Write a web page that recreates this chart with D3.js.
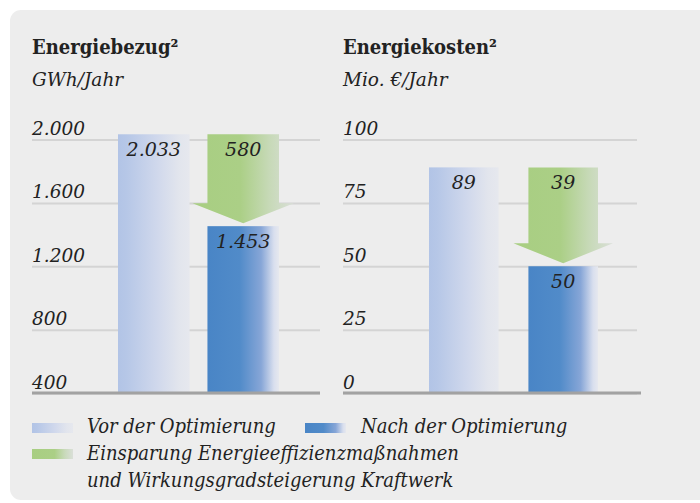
<!DOCTYPE html>
<html><head><meta charset="utf-8">
<script src="https://cdn.jsdelivr.net/npm/d3@7"></script>
<style>
html,body{margin:0;padding:0;background:#fff;}
svg{display:block;}
</style></head>
<body>
<script>
// ---- data ----
const categories = ["Vor der Optimierung", "Nach der Optimierung"];
const savingLabel = "Einsparung Energieeffizienzmaßnahmen";
const savingLabel2 = "und Wirkungsgradsteigerung Kraftwerk";
const energyValues = [2033, 1453];
const energySaving = 580;
const costValues = [89, 50];
const costSaving = 39;
const energyTicks = [400, 800, 1200, 1600, 2000];
const costTicks = [0, 25, 50, 75, 100];
const titles = ["Energiebezug²", "Energiekosten²"];
const units = ["GWh/Jahr", "Mio. €/Jahr"];

const de = d3.formatLocale({decimal: ",", thousands: ".", grouping: [3], currency: ["", " €"]});
const fmt = de.format(",d");

const W = 700, H = 503;
const svg = d3.select("body").append("svg").attr("width", W).attr("height", H);
const defs = svg.append("defs");

function grad(id, stops) {
  const g = defs.append("linearGradient").attr("id", id)
    .attr("x1", "0").attr("x2", "1").attr("y1", "0").attr("y2", "0");
  stops.forEach(s => g.append("stop").attr("offset", s[0]).attr("stop-color", s[1]));
}
grad("gVor", [[0, "#b2c4e6"], [0.12, "#b6c7e7"], [0.55, "#d0d8ec"], [0.85, "#e2e5ed"], [1, "#e6e8ee"]]);
grad("gNach", [[0, "#4985c6"], [0.45, "#518bc9"], [0.75, "#87a6d7"], [0.93, "#d9dfee"], [1, "#e6e8ee"]]);
grad("gSave", [[0, "#a8ce82"], [0.47, "#abcf86"], [0.75, "#c6d9b6"], [1, "#dadfd8"]]);
grad("gSaveLeg", [[0, "#a8ce82"], [0.55, "#abcf86"], [0.8, "#c9dabb"], [1, "#dadfd8"]]);

// panel
svg.append("rect").attr("x", 10).attr("y", 10).attr("width", 720).attr("height", 490)
  .attr("rx", 11).attr("fill", "#ededed");

const serif = "'DejaVu Serif', serif";
const cond = "'DejaVu Serif Condensed', 'DejaVu Serif', serif";
const textCol = "#222";

function chart(cfg) {
  const g = svg.append("g");
  const x0 = cfg.x0, x1 = cfg.x1;
  const y = d3.scaleLinear().domain(cfg.domain).range([393, 139.5]);
  const x = d3.scaleBand().domain(categories).range(cfg.barRange).paddingInner(cfg.pad);

  g.append("text").attr("x", x0).attr("y", 54).attr("font-family", cond)
    .attr("font-weight", "bold").attr("font-size", 20).attr("fill", textCol).text(cfg.title);
  g.append("text").attr("x", x0).attr("y", 86).attr("font-family", serif)
    .attr("font-style", "italic").attr("font-size", 18.5).attr("fill", textCol).text(cfg.unit);

  const ax = g.append("g").attr("transform", `translate(${x0},0)`)
    .call(d3.axisRight(y).tickValues(cfg.ticks).tickSize(x1 - x0).tickFormat(fmt));
  ax.select(".domain").remove();
  ax.selectAll("line").attr("stroke", "#d4d4d4").attr("stroke-width", 2);
  ax.selectAll("text").attr("x", 0).attr("dy", 0).attr("y", -5)
    .attr("text-anchor", "start").attr("font-family", serif).attr("font-style", "italic")
    .attr("font-size", 18.5).attr("fill", textCol);

  const vals = cfg.values;
  g.selectAll("rect.bar").data(vals).join("rect").attr("class", "bar")
    .attr("x", (d, i) => x(categories[i])).attr("width", x.bandwidth())
    .attr("y", d => y(d)).attr("height", d => y(cfg.domain[0]) - y(d))
    .attr("fill", (d, i) => i === 0 ? "url(#gVor)" : "url(#gNach)");

  // saving arrow
  const bx = x(categories[1]), bw = x.bandwidth();
  const top = y(vals[0]), tip = y(vals[1]) - 3, base = tip - 20, ext = 15;
  const pts = [[bx, top], [bx + bw, top], [bx + bw, base], [bx + bw + ext, base],
               [bx + bw / 2, tip], [bx - ext, base], [bx, base]];
  g.append("path").attr("d", d3.line()(pts) + "Z").attr("fill", "url(#gSave)");

  const lbl = (xx, yy, t) => g.append("text").attr("x", xx).attr("y", yy)
    .attr("text-anchor", "middle").attr("font-family", serif).attr("font-style", "italic")
    .attr("font-size", 19).attr("fill", textCol).text(t);
  lbl(x(categories[0]) + bw / 2, y(vals[0]) + 22, fmt(vals[0]));
  lbl(bx + bw / 2, top + 22, fmt(cfg.saving));
  lbl(bx + bw / 2, y(vals[1]) + 22, fmt(vals[1]));

  g.append("line").attr("x1", x0).attr("x2", cfg.axisEnd).attr("y1", y(cfg.domain[0]))
    .attr("y2", y(cfg.domain[0])).attr("stroke", "#a2a2a2").attr("stroke-width", 3);
}

chart({x0: 32, x1: 320, axisEnd: 320, barRange: [118, 279], pad: 0.2, domain: [400, 2000],
  ticks: energyTicks, values: energyValues, saving: energySaving, title: titles[0], unit: units[0]});
chart({x0: 343, x1: 637, axisEnd: 641, barRange: [429, 598], pad: 0.3, domain: [0, 100],
  ticks: costTicks, values: costValues, saving: costSaving, title: titles[1], unit: units[1]});

// legend
const leg = svg.append("g");
const legItems = [
  {x: 32, y: 423, fill: "url(#gVor)", tx: 87, ty: 433, t: categories[0]},
  {x: 305, y: 423, fill: "url(#gNach)", tx: 361, ty: 433, t: categories[1]},
  {x: 32, y: 449, fill: "url(#gSaveLeg)", tx: 87, ty: 460, t: savingLabel}
];
legItems.forEach(d => {
  leg.append("rect").attr("x", d.x).attr("y", d.y).attr("width", 41).attr("height", 10).attr("fill", d.fill);
  leg.append("text").attr("x", d.tx).attr("y", d.ty).attr("font-family", cond)
    .attr("font-style", "italic").attr("font-size", 20).attr("fill", textCol).text(d.t);
});
leg.append("text").attr("x", 87).attr("y", 487).attr("font-family", cond)
  .attr("font-style", "italic").attr("font-size", 20).attr("fill", textCol).text(savingLabel2);
</script>
</body></html>
